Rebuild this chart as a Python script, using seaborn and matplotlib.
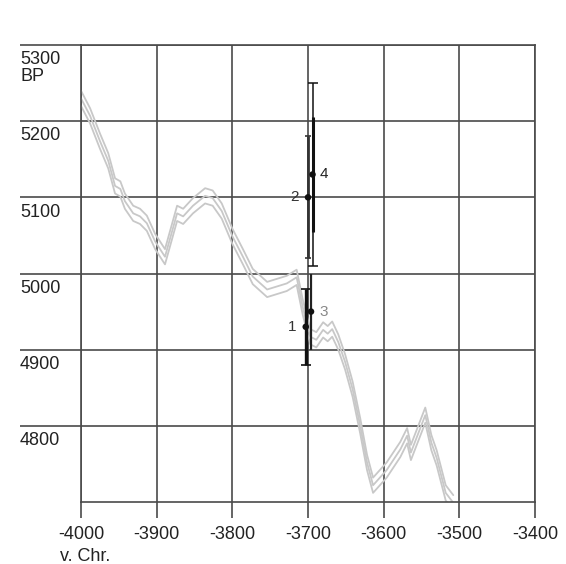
import matplotlib
matplotlib.use("Agg")
import matplotlib.pyplot as plt
import seaborn as sns
import pandas as pd
import numpy as np

# ---- data ----
cal_years = [-4000, -3988, -3975, -3964, -3955, -3948, -3942, -3931, -3922, -3913,
             -3902, -3889, -3873, -3865, -3852, -3836, -3826, -3814, -3800, -3786,
             -3773, -3754, -3741, -3728, -3715, -3707, -3697, -3689, -3680, -3674,
             -3668, -3660, -3651, -3641, -3631, -3622, -3614, -3596, -3578, -3569,
             -3564, -3545, -3537, -3530, -3518, -3508]
bp_center = [5230, 5207, 5174, 5148, 5115, 5111, 5095, 5079, 5075, 5066,
             5042, 5022, 5079, 5075, 5089, 5102, 5099, 5082, 5049, 5022,
             4996, 4979, 4983, 4987, 4995, 4956, 4917, 4913, 4926, 4921,
             4927, 4910, 4884, 4848, 4800, 4752, 4722, 4742, 4769, 4787,
             4765, 4814, 4778, 4758, 4712, 4699]
bp_sigma = [10] * len(bp_center)

sample_labels = ["1", "2", "3", "4"]
sample_x = [-3703, -3700, -3696, -3694]
sample_bp = [4930, 5100, 4950, 5130]
sample_err = [50, 80, 50, 75]
sample_err_wide = [None, None, None, 120]

x_ticks = [-4000, -3900, -3800, -3700, -3600, -3500, -3400]
x_tick_labels = ["-4000", "-3900", "-3800", "-3700", "-3600", "-3500", "-3400"]
y_ticks = [4800, 4900, 5000, 5100, 5200, 5300]
y_tick_labels = ["4800", "4900", "5000", "5100", "5200", "5300\nBP"]
x_axis_note = "v. Chr."

# ---- styling ----
sns.set_style("white")
plt.rcParams["font.family"] = ["Liberation Sans", "DejaVu Sans"]

GRID = "#4a4a4a"
CURVE = "#c8c8c8"

fig = plt.figure(figsize=(5.66, 5.64), dpi=100)
W, H = 566, 564
ax = fig.add_axes([81 / W, 1 - 502 / H, 454 / W, 457 / H])

# calibration curve bands (long-form)
rows = []
c = np.array(bp_center, dtype=float)
s = np.array(bp_sigma, dtype=float)
for band, vals in (("upper", c + s), ("center", c), ("lower", c - s)):
    for xv, yv in zip(cal_years, vals):
        rows.append({"year": xv, "bp": yv, "band": band})
df = pd.DataFrame(rows)
sns.lineplot(data=df, x="year", y="bp", units="band", estimator=None, sort=False,
             color=CURVE, lw=1.3, ax=ax, zorder=2)

# error bars
bar_styles = {
    "1": dict(lw=2.4, capsize=3.5, color="#111111"),
    "2": dict(lw=2.0, capsize=2.5, color="#333333"),
    "3": dict(lw=1.6, capsize=0, color="#222222"),
    "4": dict(lw=2.2, capsize=0, color="#111111"),
}
for lab, xv, yv, e, ew in zip(sample_labels, sample_x, sample_bp, sample_err, sample_err_wide):
    st = bar_styles[lab]
    if ew is not None:
        ax.errorbar([xv], [yv], yerr=[ew], fmt="none", ecolor="#111111",
                    elinewidth=1.1, capsize=3.5, capthick=1.1, zorder=4)
    ax.errorbar([xv], [yv], yerr=[e], fmt="none", ecolor=st["color"],
                elinewidth=st["lw"], capsize=st["capsize"], capthick=1.2, zorder=5)

pts = pd.DataFrame({"x": sample_x, "y": sample_bp, "lab": sample_labels})
sns.scatterplot(data=pts, x="x", y="y", color="#111111", s=22, edgecolor="none",
                ax=ax, zorder=6, legend=False)

label_cfg = {
    "1": dict(dx=-9, ha="right", color="#333333"),
    "2": dict(dx=-9, ha="right", color="#333333"),
    "3": dict(dx=8, ha="left", color="#888888"),
    "4": dict(dx=7, ha="left", color="#222222"),
}
for lab, xv, yv in zip(sample_labels, sample_x, sample_bp):
    cfg = label_cfg[lab]
    ax.annotate(lab, xy=(xv, yv), xytext=(cfg["dx"] * 0.72, 0),
                textcoords="offset points", ha=cfg["ha"], va="center",
                fontsize=11, color=cfg["color"], zorder=7)

# axes, grid
ax.set_xlim(-4000, -3400)
ax.set_ylim(4700, 5300)
ax.set_xticks(x_ticks)
ax.set_xticklabels(x_tick_labels, fontsize=13, color="#222222")
ax.set_yticks(y_ticks)
ax.set_yticklabels([])
ax.grid(True, color=GRID, lw=1.2, zorder=1)
ax.set_axisbelow(True)
for sp in ax.spines.values():
    sp.set_color(GRID)
    sp.set_linewidth(1.2)
ax.tick_params(axis="x", bottom=True, direction="out", length=11.5, width=1.2,
               color=GRID, pad=6)
ax.tick_params(axis="y", left=True, direction="out", length=44, width=1.2,
               color=GRID, pad=0)
ax.set_xlabel("")
ax.set_ylabel("")

# y labels sit below their grid lines, left-aligned
for val, lab in zip(y_ticks, y_tick_labels):
    ax.annotate(lab, xy=(-61 / 454, val), xycoords=("axes fraction", "data"),
                xytext=(0, -4.5), textcoords="offset points",
                ha="left", va="top", fontsize=13, color="#222222",
                linespacing=0.95, annotation_clip=False)

ax.text(-21 / 454, -46 / 457, x_axis_note, transform=ax.transAxes,
        ha="left", va="top", fontsize=13, color="#222222")

fig.savefig("out.png", dpi=100, facecolor="white")
